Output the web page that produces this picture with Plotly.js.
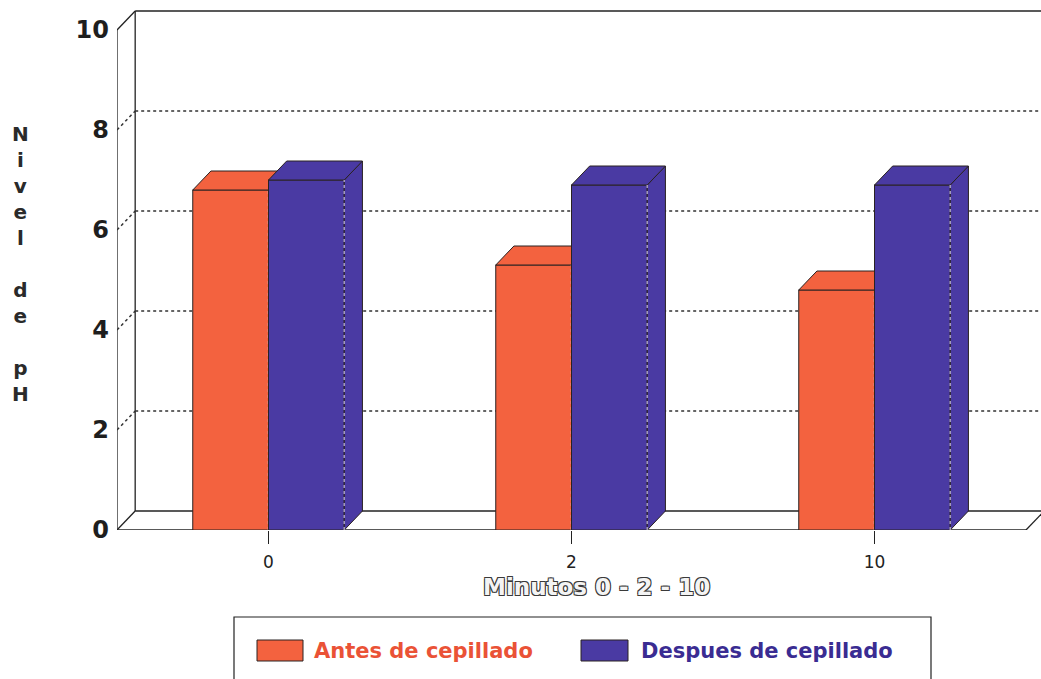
<!DOCTYPE html>
<html>
<head>
<meta charset="utf-8">
<script src="https://cdn.plot.ly/plotly-3.0.1.min.js"></script>
<style>html,body{margin:0;padding:0;background:#fff}</style>
</head>
<body>
<div id="chart" style="width:1041px;height:679px"></div>
<script>
// pH levels before and after brushing, at 0, 2 and 10 minutes
const categorias = ['0', '2', '10'];
const antesCepillado = [6.8, 5.3, 4.8];
const despuesCepillado = [7.0, 6.9, 6.9];
const ticksPH = [0, 2, 4, 6, 8, 10];
const lineasGuia = [2, 4, 6, 8];
const nombres = ['Antes de cepillado', 'Despues de cepillado'];
const tituloX = 'Minutos 0 - 2 - 10';
const tituloY = ['N', 'i', 'v', 'e', 'l', '', 'd', 'e', '', 'p', 'H'];

// look
const NARANJA = '#F3623F';
const AZUL = '#4A3AA3';
const BORDE = '#2a2222';
const TXT_ROJO = '#EA5236';
const TXT_AZUL = '#3A2C92';

// pseudo-3D geometry (category units / pH units)
const ANCHO = 0.25;          // width of each bar
const DX = 0.06, DY = 0.38;  // depth offset of the box
const W = 1041, H = 679;
const M = {l: 117, r: 0, t: 10, b: 149};
const PX_CAT = 303;          // pixels per category
const X0 = -0.5, X1 = 2.5;
const XMAX = X0 + (W - M.l - M.r) / PX_CAT;
const YMAX = 10.4;

const plotW = W - M.l - M.r, plotH = H - M.t - M.b;
const pxX = p => (p - M.l) / plotW;
const pxY = p => (H - M.b - p) / plotH;

const idx = categorias.map((_, i) => i);

// front face as a bar, plus top and right faces as filled polygons
function barra3D(valores, offset, color, nombre, xa, ya) {
  const frente = {
    type: 'bar', name: nombre, x: idx, y: valores,
    offset: offset, width: ANCHO,
    marker: {color: color, line: {color: BORDE, width: 1}},
    xaxis: xa, yaxis: ya, hoverinfo: 'skip'
  };
  const tx = [], ty = [], sx = [], sy = [], ex = [], ey = [];
  valores.forEach((v, i) => {
    const a = i + offset, b = a + ANCHO;
    tx.push(a, a + DX, b + DX, b, a, null);
    ty.push(v, v + DY, v + DY, v, v, null);
    sx.push(b, b, b + DX, b + DX, b, null);
    sy.push(0, v, v + DY, DY, 0, null);
    ex.push(b, b, null);
    ey.push(0, v, null);
  });
  const poly = (xs, ys) => ({
    type: 'scatter', mode: 'lines', x: xs, y: ys, fill: 'toself',
    fillcolor: color, line: {color: BORDE, width: 1},
    xaxis: xa, yaxis: ya, hoverinfo: 'skip', showlegend: false
  });
  const arista = {
    type: 'scatter', mode: 'lines', x: ex, y: ey,
    line: {color: 'rgba(200,192,230,0.75)', width: 1.6, dash: 'dot'},
    xaxis: xa, yaxis: ya, hoverinfo: 'skip', showlegend: false
  };
  return [frente, poly(sx, sy), poly(tx, ty), arista];
}

const data = [
  ...barra3D(antesCepillado, -ANCHO, NARANJA, nombres[0], 'x', 'y'),
  ...barra3D(despuesCepillado, 0, AZUL, nombres[1], 'x2', 'y2')
];

// box frame and back-wall guide lines
const LINEA = {color: '#222', width: 1.3};
const seg = (x0, y0, x1, y1, line) => ({
  type: 'line', xref: 'x', yref: 'y', x0, y0, x1, y1, line: line || LINEA, layer: 'below'
});
const shapes = [
  seg(X0, 0, X0, 10),
  seg(X0, 10, X0 + DX, 10 + DY),
  seg(X0 + DX, DY, X0 + DX, 10 + DY),
  seg(X0 + DX, 10 + DY, XMAX, 10 + DY),
  seg(X0, 0, X1, 0),
  seg(X0, 0, X0 + DX, DY),
  seg(X0 + DX, DY, X1 + DX, DY),
  seg(X1, 0, X1 + DX, DY)
];
const PUNTEADO = {color: '#333', width: 1.5, dash: 'dot'};
lineasGuia.forEach(t => {
  shapes.push(seg(X0, t, X0 + DX, t + DY, PUNTEADO));
  shapes.push(seg(X0 + DX, t + DY, XMAX, t + DY, PUNTEADO));
});

// legend box
shapes.push({type: 'rect', xref: 'paper', yref: 'paper',
  x0: pxX(234), x1: pxX(931), y0: pxY(617), y1: pxY(700),
  line: {color: '#222', width: 1.2}, fillcolor: 'rgba(0,0,0,0)', layer: 'above'});
const muestras = [[257, 303, NARANJA], [581, 628, AZUL]];
muestras.forEach(([a, b, c]) => shapes.push({type: 'rect', xref: 'paper', yref: 'paper',
  x0: pxX(a), x1: pxX(b), y0: pxY(661), y1: pxY(640),
  line: {color: BORDE, width: 1}, fillcolor: c, layer: 'above'}));

const annotations = [];
// legend labels
annotations.push({text: nombres[0], xref: 'paper', yref: 'paper', x: pxX(312), y: pxY(651),
  xanchor: 'left', yanchor: 'middle', showarrow: false,
  font: {family: 'DejaVu Sans', size: 21, weight: 'bold', color: TXT_ROJO}});
annotations.push({text: nombres[1], xref: 'paper', yref: 'paper', x: pxX(639), y: pxY(651),
  xanchor: 'left', yanchor: 'middle', showarrow: false,
  font: {family: 'DejaVu Sans', size: 21, weight: 'bold', color: TXT_AZUL}});
// x-axis title, outlined lettering
annotations.push({text: tituloX, xref: 'paper', yref: 'paper', x: pxX(596), y: pxY(587),
  xanchor: 'center', yanchor: 'middle', showarrow: false,
  font: {family: 'DejaVu Sans', size: 23, weight: 'bold', color: '#f4f4f4',
    shadow: '-1px -1px 0 #3a3a3a, 1px -1px 0 #3a3a3a, -1px 1px 0 #3a3a3a, 1px 1px 0 #3a3a3a'}});
// y-axis title, one letter per line
annotations.push({text: tituloY.map(c => c || ' ').join('<br>'), xref: 'paper', yref: 'paper',
  x: pxX(20), y: pxY(120), xanchor: 'center', yanchor: 'top', showarrow: false,
  font: {family: 'DejaVu Sans', size: 20, weight: 'bold', color: '#2a2a2a'}});

const layout = {
  width: W, height: H, margin: M,
  paper_bgcolor: '#ffffff', plot_bgcolor: '#ffffff',
  showlegend: false, barmode: 'overlay',
  xaxis: {
    range: [X0, XMAX], tickvals: idx, ticktext: categorias,
    ticks: 'outside', ticklen: 13, tickwidth: 1.3, tickcolor: '#222',
    ticklabelstandoff: 4,
    tickfont: {family: 'DejaVu Sans', size: 17, color: '#222'},
    showgrid: false, zeroline: false, showline: false
  },
  yaxis: {
    range: [0, YMAX], tickvals: ticksPH, ticks: '',
    ticklabelstandoff: 7,
    tickfont: {family: 'DejaVu Sans', size: 24, weight: 'bold', color: '#1e1e1e'},
    showgrid: false, zeroline: false, showline: false
  },
  xaxis2: {overlaying: 'x', range: [X0, XMAX], visible: false},
  yaxis2: {overlaying: 'y', range: [0, YMAX], visible: false},
  shapes: shapes,
  annotations: annotations
};

Plotly.newPlot('chart', data, layout, {staticPlot: true, displayModeBar: false});
</script>
</body>
</html>
